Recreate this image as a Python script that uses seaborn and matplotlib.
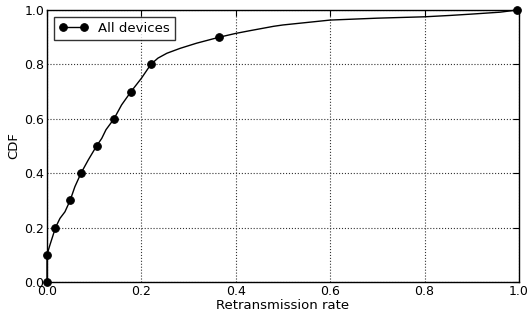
import matplotlib
matplotlib.use("Agg")
import matplotlib.pyplot as plt
import seaborn as sns
import pandas as pd

# Data
rate = [0.0, 0.0, 0.006, 0.018, 0.0275, 0.038, 0.049, 0.059, 0.072, 0.0875,
        0.105, 0.116, 0.125, 0.142, 0.158, 0.178, 0.2, 0.220, 0.235, 0.254,
        0.282, 0.317, 0.365, 0.40, 0.43, 0.48, 0.5, 0.55, 0.6, 0.7,
        0.8, 0.854, 0.9, 0.96, 0.996]
cdf = [0.0, 0.1, 0.135, 0.2, 0.234, 0.258, 0.3, 0.35, 0.4, 0.449,
       0.5, 0.528, 0.56, 0.6, 0.651, 0.7, 0.749, 0.8, 0.823, 0.841,
       0.859, 0.878, 0.9, 0.914, 0.924, 0.94, 0.945, 0.954, 0.963, 0.97,
       0.975, 0.98, 0.985, 0.992, 1.0]
marker_levels = [0.0, 0.1, 0.2, 0.3, 0.4, 0.5, 0.6, 0.7, 0.8, 0.9, 1.0]
series_name = "All devices"
xticks = [0.0, 0.2, 0.4, 0.6, 0.8, 1.0]
yticks = [0.0, 0.2, 0.4, 0.6, 0.8, 1.0]

df = pd.DataFrame({"rate": rate, "cdf": cdf})
mark_idx = [i for i, c in enumerate(cdf) if round(c, 3) in marker_levels]

sns.set_style("white")
plt.rcParams.update({
    "font.family": ["DejaVu Sans"],
    "xtick.direction": "in",
    "ytick.direction": "in",
    "xtick.top": True,
    "ytick.right": True,
    "xtick.major.size": 4,
    "ytick.major.size": 4,
    "xtick.color": "black",
    "ytick.color": "black",
    "axes.edgecolor": "black",
    "axes.linewidth": 1.0,
    "text.color": "black",
    "axes.labelcolor": "black",
})

fig = plt.figure(figsize=(5.29, 3.16), dpi=100)
ax = fig.add_axes([47/529, 34/316, 472/529, 272/316])

sns.lineplot(data=df, x="rate", y="cdf", ax=ax, sort=False, estimator=None,
             color="black", linewidth=1.0, marker="o", markersize=5.5,
             markevery=mark_idx, markeredgecolor="black", label=series_name,
             clip_on=False)

ax.set_xlim(0, 1)
ax.set_ylim(0, 1)
ax.set_xticks(xticks)
ax.set_yticks(yticks)
ax.set_xticklabels([f"{t:.1f}" for t in xticks], fontsize=9)
ax.set_yticklabels([f"{t:.1f}" for t in yticks], fontsize=9)
ax.tick_params(axis="both", pad=2)
ax.grid(True, color="#333333", linestyle=":", linewidth=0.8)
ax.set_xlabel("Retransmission rate", fontsize=9.5, labelpad=1)
ax.set_ylabel("CDF", fontsize=9.5, labelpad=3)
for s in ax.spines.values():
    s.set_visible(True)
    s.set_color("black")

leg = ax.legend(loc="upper left", numpoints=2, fontsize=9.5, frameon=True,
                fancybox=False, borderaxespad=0.5, handlelength=2.2)
leg.get_frame().set_edgecolor("black")
leg.get_frame().set_linewidth(1.0)

fig.savefig("out.png", dpi=100, facecolor="white")
